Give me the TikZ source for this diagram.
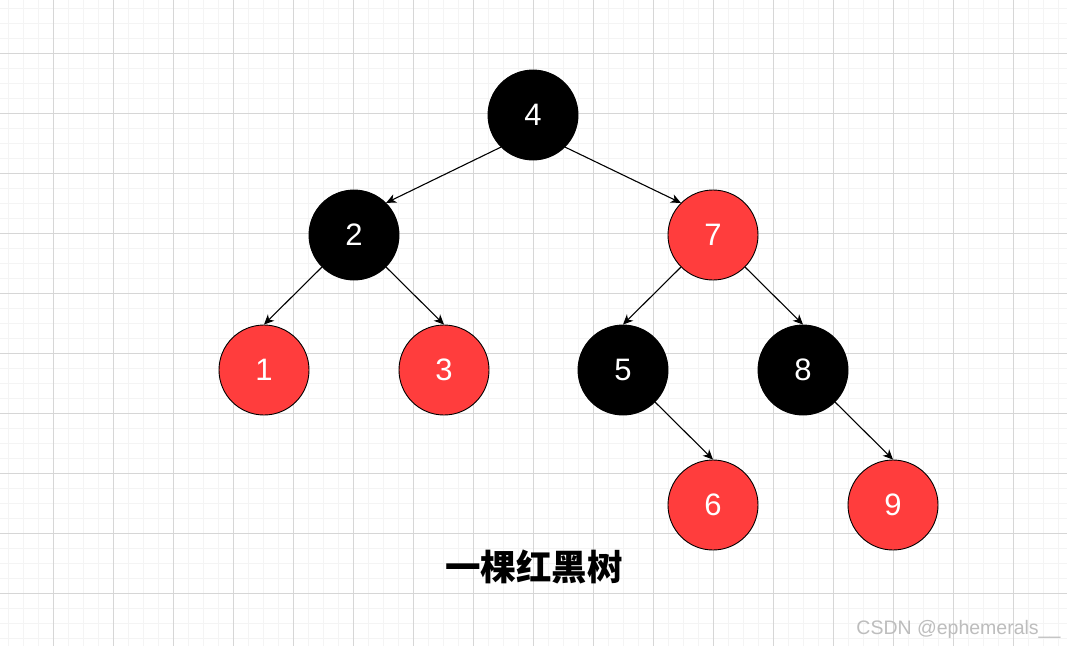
\documentclass[tikz,border=0pt]{standalone}
\usepackage{xcolor}
\usepackage{fontspec}
\setmainfont{Liberation Sans}
\newfontfamily\cjk{Noto Sans CJK SC}
\usepackage{tikz}
\usetikzlibrary{positioning, arrows.meta}

\definecolor{rbred}{HTML}{FF3D3D}
\definecolor{gridminor}{HTML}{F4F4F4}
\definecolor{gridmajor}{HTML}{D6D6D6}
\definecolor{wmgray}{HTML}{BDBDBD}

\tikzset{
  rbnode/.style={circle, draw=black, line width=0.9pt, minimum size=90pt, inner sep=0pt,
    text=white, font=\fontsize{31}{31}\selectfont},
  rbblack/.style={rbnode, fill=black},
  rbred/.style={rbnode, fill=rbred},
  link/.style={-{Stealth[length=10pt,width=9pt,inset=3pt]}, line width=1.1pt}
}

\begin{document}
\begin{tikzpicture}[x=1pt, y=-1pt, on grid]
			\useasboundingbox[fill=white] (0,0) rectangle (1067,646);
			% background grid
			\foreach \g in {8,23,...,1067} \draw[gridminor, line width=1pt] (\g,0) -- (\g,646);
			\foreach \g in {8,23,...,646} \draw[gridminor, line width=1pt] (0,\g) -- (1067,\g);
			\foreach \g in {53,113,...,1067} \draw[gridmajor, line width=0.8pt] (\g,0) -- (\g,646);
			\foreach \g in {53,113,...,646} \draw[gridmajor, line width=0.8pt] (0,\g) -- (1067,\g);
			% tree
			\node[rbblack] (n4) at (533,115) {4};
			\node[rbblack, below left = 120pt and 179pt of n4] (n2) {2};
			\node[rbred, below right = 120pt and 180pt of n4] (n7) {7};
			\node[rbred, below left = 135pt and 90pt of n2] (n1) {1};
			\node[rbred, below right = 135pt and 90pt of n2] (n3) {3};
			\node[rbblack, below left = 135pt and 90pt of n7] (n5) {5};
			\node[rbblack, below right = 135pt and 90pt of n7] (n8) {8};
			\node[rbred, below right = 135pt and 90pt of n5] (n6) {6};
			\node[rbred, below right = 135pt and 90pt of n8] (n9) {9};
			\draw[link] (n4.south west) -- (n2.north east);
			\draw[link] (n4.south east) -- (n7.north west);
			\draw[link] (n2.south west) -- (n1.north);
			\draw[link] (n2.south east) -- (n3.north);
			\draw[link] (n7.south west) -- (n5.north);
			\draw[link] (n7.south east) -- (n8.north);
			\draw[link] (n5.south east) -- (n6.north);
			\draw[link] (n8.south east) -- (n9.north);
			% caption and watermark
			\node[font=\cjk\bfseries\fontsize{35.5}{35.5}\selectfont] (title) at (534,567) {一棵红黑树};
			\node[text=wmgray, font=\fontsize{19.5}{19.5}\selectfont, anchor=east] (mark) at (1064,629) {CSDN @ephemerals\_\_};
		\end{tikzpicture}
\end{document}
